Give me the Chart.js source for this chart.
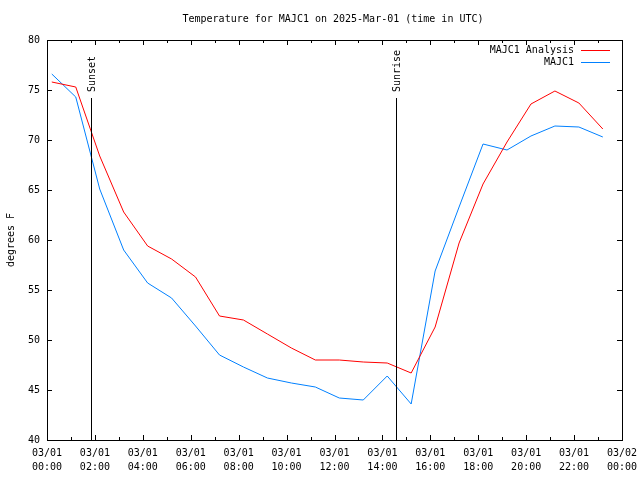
<!DOCTYPE html>
<html>
<head>
<meta charset="utf-8">
<script src="https://cdn.jsdelivr.net/npm/chart.js@4"></script>
<style>
html,body{margin:0;padding:0;background:#fff;}
canvas{display:block;}
</style>
</head>
<body>
<canvas id="c" width="640" height="480"></canvas>
<script>
// Data (hours since 03/01 00:00 UTC)
const hours = [0.2, 1.2, 2.2, 3.2, 4.2, 5.2, 6.2, 7.2, 8.2, 9.2, 10.2, 11.2, 12.2, 13.2, 14.2, 15.2, 16.2, 17.2, 18.2, 19.2, 20.2, 21.2, 22.2, 23.2];
const analysisTemps = [75.8, 75.3, 68.4, 62.8, 59.4, 58.1, 56.3, 52.4, 52.0, 50.6, 49.2, 48.0, 48.0, 47.8, 47.7, 46.7, 51.3, 59.7, 65.6, 69.8, 73.6, 74.9, 73.7, 71.1];
const stationTemps = [76.6, 74.3, 65.1, 59.0, 55.7, 54.2, 51.4, 48.5, 47.3, 46.2, 45.7, 45.3, 44.2, 44.0, 46.4, 43.6, 56.9, 63.3, 69.6, 69.0, 70.4, 71.4, 71.3, 70.3];
const xTickDates = ['03/01','03/01','03/01','03/01','03/01','03/01','03/01','03/01','03/01','03/01','03/01','03/01','03/02'];
const xTickTimes = ['00:00','02:00','04:00','06:00','08:00','10:00','12:00','14:00','16:00','18:00','20:00','22:00','00:00'];
const sunEvents = [{label: 'Sunset', hour: 1.83}, {label: 'Sunrise', hour: 14.56}];
const seriesNames = ['MAJC1 Analysis', 'MAJC1'];
const seriesColors = ['#ff0000', '#0080ff'];
const titleText = 'Temperature for MAJC1 on 2025-Mar-01 (time in UTC)';
const yTitle = 'degrees F';

const FONT = '10px "DejaVu Sans Mono", monospace';

const gnuplotPlugin = {
  id: 'gnuplot',
  afterDatasetsDraw(chart) {
    const ctx = chart.ctx;
    const a = chart.chartArea;
    const xs = chart.scales.x, ys = chart.scales.y;
    ctx.save();
    ctx.strokeStyle = '#000';
    ctx.lineWidth = 1;
    // frame
    ctx.strokeRect(Math.round(a.left) + 0.5, Math.round(a.top) + 0.5, Math.round(a.right - a.left), Math.round(a.bottom - a.top));
    ctx.beginPath();
    // x ticks (major every 2h, minor every 1h), top & bottom
    for (let h = 0; h <= 24; h++) {
      const px = Math.round(xs.getPixelForValue(h)) + 0.5;
      const len = (h % 2 === 0) ? 5 : 3;
      ctx.moveTo(px, a.bottom); ctx.lineTo(px, a.bottom - len);
      ctx.moveTo(px, a.top); ctx.lineTo(px, a.top + len);
    }
    // y ticks left & right
    for (let v = 40; v <= 80; v += 5) {
      const py = Math.round(ys.getPixelForValue(v)) + 0.5;
      ctx.moveTo(a.left, py); ctx.lineTo(a.left + 5, py);
      ctx.moveTo(a.right, py); ctx.lineTo(a.right - 5, py);
    }
    ctx.stroke();

    // sun lines
    ctx.font = FONT;
    ctx.fillStyle = '#000';
    sunEvents.forEach(ev => {
      const px = Math.round(xs.getPixelForValue(ev.hour)) + 0.5;
      ctx.beginPath();
      ctx.moveTo(px, 98); ctx.lineTo(px, a.bottom);
      ctx.stroke();
      ctx.save();
      ctx.translate(px + 1, 92);
      ctx.rotate(-Math.PI / 2);
      ctx.textAlign = 'left';
      ctx.textBaseline = 'middle';
      ctx.fillText(ev.label, 0, 0);
      ctx.restore();
    });

    // title
    ctx.textAlign = 'center';
    ctx.textBaseline = 'middle';
    ctx.fillText(titleText, 333, 19);

    // y title
    ctx.save();
    ctx.translate(11, 240);
    ctx.rotate(-Math.PI / 2);
    ctx.fillText(yTitle, 0, 0);
    ctx.restore();

    // legend
    ctx.textAlign = 'right';
    seriesNames.forEach((name, i) => {
      const y = 50 + i * 12;
      ctx.fillStyle = '#000';
      ctx.fillText(name, 574, y);
      ctx.strokeStyle = seriesColors[i];
      ctx.beginPath();
      ctx.moveTo(581, y + 0.5); ctx.lineTo(610, y + 0.5);
      ctx.stroke();
    });
    ctx.restore();
  }
};

new Chart(document.getElementById('c'), {
  type: 'line',
  data: {
    datasets: [
      {
        label: seriesNames[0],
        data: hours.map((h, i) => ({x: h, y: analysisTemps[i]})),
        borderColor: seriesColors[0],
        borderWidth: 1,
        pointRadius: 0,
        tension: 0,
        fill: false
      },
      {
        label: seriesNames[1],
        data: hours.map((h, i) => ({x: h, y: stationTemps[i]})),
        borderColor: seriesColors[1],
        borderWidth: 1,
        pointRadius: 0,
        tension: 0,
        fill: false
      }
    ]
  },
  options: {
    responsive: false,
    animation: false,
    devicePixelRatio: 1,
    layout: {padding: {top: 40, right: 18, left: 0, bottom: 0}},
    plugins: {legend: {display: false}, title: {display: false}, tooltip: {enabled: false}},
    scales: {
      x: {
        type: 'linear',
        min: 0, max: 24,
        afterFit(s) { s.height = 40; s.paddingLeft = 0; s.paddingRight = 0; },
        grid: {display: false, drawTicks: false},
        border: {display: false},
        ticks: {
          stepSize: 2,
          autoSkip: false,
          maxRotation: 0,
          padding: 6,
          color: '#000',
          font: {family: '"DejaVu Sans Mono", monospace', size: 10, lineHeight: 1.4},
          callback(v) {
            const i = Math.round(v / 2);
            return [xTickDates[i], xTickTimes[i]];
          }
        }
      },
      y: {
        min: 40, max: 80,
        afterFit(s) { s.width = 47; s.paddingTop = 0; s.paddingBottom = 0; },
        grid: {display: false, drawTicks: false},
        border: {display: false},
        ticks: {
          stepSize: 5,
          padding: 7,
          color: '#000',
          font: {family: '"DejaVu Sans Mono", monospace', size: 10}
        }
      }
    }
  },
  plugins: [gnuplotPlugin]
});
</script>
</body>
</html>
